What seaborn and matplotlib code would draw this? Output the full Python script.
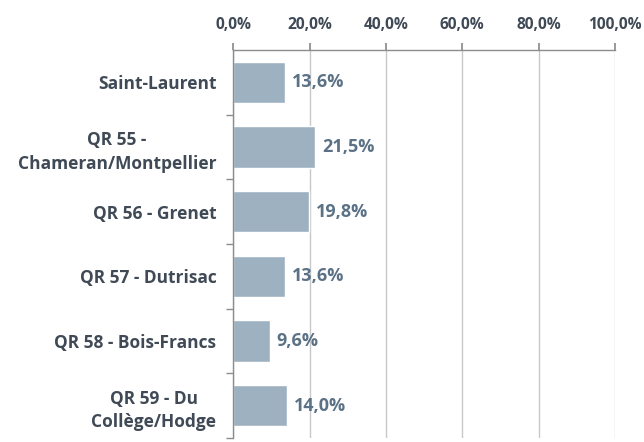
import matplotlib
matplotlib.use("Agg")
import matplotlib.pyplot as plt
import seaborn as sns
import pandas as pd
from matplotlib.ticker import FuncFormatter, FixedLocator

categories = ["Saint-Laurent", "QR 55 -\nChameran/Montpellier", "QR 56 - Grenet",
              "QR 57 - Dutrisac", "QR 58 - Bois-Francs", "QR 59 - Du\nCollège/Hodge"]
values = [13.6, 21.5, 19.8, 13.6, 9.6, 14.0]
xticks = [0, 20, 40, 60, 80, 100]

sns.set_theme(style="white")
plt.rcParams['font.family'] = ['Open Sans', 'DejaVu Sans']

df = pd.DataFrame({"cat": categories, "val": values})
fig = plt.figure(figsize=(6.44, 4.42), dpi=100)
ax = fig.add_axes([0.362, 0.009, 0.593, 0.878])
sns.barplot(data=df, x="val", y="cat", orient="h", color="#9DB1C1", saturation=1,
            width=0.64, ax=ax)

ax.set_xlim(0, 100)
ax.set_ylim(len(categories) - 0.5, -0.5)
ax.xaxis.tick_top()
ax.set_xticks(xticks)
ax.xaxis.set_major_formatter(FuncFormatter(lambda v, p: f"{v:.1f}%".replace(".", ",")))
ax.grid(axis="x", color="#C8C8C8", linewidth=1)
ax.set_axisbelow(True)
ax.set_xlabel("")
ax.set_ylabel("")
for s in ["right", "bottom"]:
    ax.spines[s].set_visible(False)
for s in ["left", "top"]:
    ax.spines[s].set_color("#8C8C8C")
    ax.spines[s].set_linewidth(1)
ax.tick_params(axis="x", top=True, length=5, color="#8C8C8C", labelsize=11.2,
               labelcolor="#404A56", pad=7)
ax.tick_params(axis="y", which="major", length=0, labelsize=12.5, labelcolor="#404A56", pad=12)
ax.yaxis.set_minor_locator(FixedLocator([i + 0.5 for i in range(len(categories))]))
ax.tick_params(axis="y", which="minor", left=True, length=5, color="#8C8C8C")

fig.canvas.draw()
for t in ax.get_xticklabels():
    t.set_fontweight("bold")
for t in ax.get_yticklabels():
    t.set_fontweight("bold")
    t.set_horizontalalignment("right")
    t.set_multialignment("center")
    t.set_linespacing(1.4)

for i, v in enumerate(values):
    ax.text(v + 1.8, i, f"{v:.1f}%".replace(".", ","), va="center", ha="left",
            fontsize=13, fontweight="bold", color="#5B7286")

fig.savefig("out.png", dpi=100, facecolor="white")
